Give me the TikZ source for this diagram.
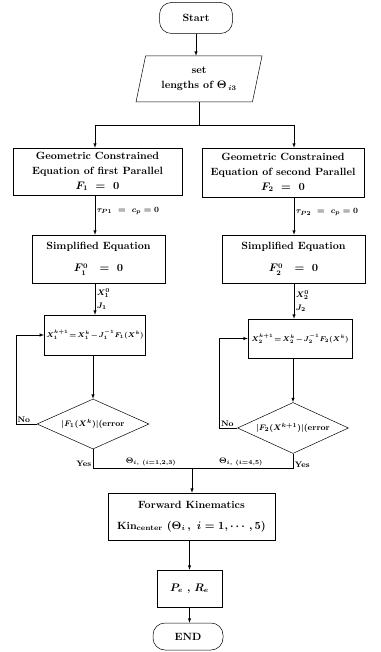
\documentclass[tikz,border=0pt]{standalone}
\usepackage{amsfonts, amssymb, amsmath}
\usetikzlibrary{shapes.geometric}

\begin{document}
\begin{tikzpicture}[x=1pt, y=-1pt, >=latex, line width=0.5pt,
        every node/.style = {font=\fontsize{10.5}{15}\selectfont\bfseries\boldmath},
        box/.style = {shape=rectangle, draw, align=center, inner sep=2pt},
        term/.style = {box, rounded corners=12pt},
        io/.style = {box, trapezium, trapezium left angle=71,
          trapezium right angle=109, trapezium stretches body},
        decide/.style = {box, diamond, aspect=2.2, inner sep=0pt,
          font=\fontsize{8.5}{10}\selectfont\bfseries\boldmath},
        small/.style = {font=\fontsize{7.5}{9}\selectfont\bfseries\boldmath},
        lbl/.style = {font=\fontsize{8}{9}\selectfont\bfseries\boldmath,
          inner sep=1.5pt, align=left}]
  \useasboundingbox (0,0) rectangle (380,652);

  \node[term, minimum width=73pt, minimum height=31pt] (start) at (196,18) {Start};
  \node[io, minimum width=126pt, minimum height=46pt] (setlen) at (199,79)
    {set\\lengths of $\Theta_{\,i3}$};
  \coordinate (fork) at (197,125);
  \coordinate (forkL) at (95,125);
  \coordinate (forkR) at (294,125);

  % two parallel chains
  \node[box, minimum width=169pt, minimum height=47pt] (geo1) at (97.5,171.5)
    {Geometric Constrained\\Equation of first Parallel\\$F_1\ =\ 0$};
  \node[box, minimum width=162pt, minimum height=49pt] (geo2) at (283,172.5)
    {Geometric Constrained\\Equation of second Parallel\\$F_2\ =\ 0$};
  \node[box, minimum width=133pt, minimum height=48pt] (simp1) at (98.5,259)
    {Simplified Equation\\[7pt]$F_1^0\ \ =\ 0$};
  \node[box, minimum width=143pt, minimum height=48pt] (simp2) at (293.5,259)
    {Simplified Equation\\[7pt]$F_2^0\ \ =\ 0$};
  \node[box, small, minimum width=96pt, minimum height=40pt] (iter1) at (95,335)
    {$\medmuskip=1.5mu \thickmuskip=2mu X_1^{k+1} = X_1^k - J_1^{-1}F_1(X^k)$};
  \node[box, small, minimum width=104pt, minimum height=39pt] (iter2) at (300,338.5)
    {$\medmuskip=1.5mu \thickmuskip=2mu X_2^{k+1} = X_2^k - J_2^{-1}F_2(X^k)$};
  \node[decide, minimum width=112pt, minimum height=50pt] (dec1) at (93,424)
    {$|F_1(X^k)|$(error};
  \node[decide, minimum width=111pt, minimum height=51pt] (dec2) at (293,428)
    {$|F_2(X^{k+1})|$(error};

  \coordinate (join) at (192,468);
  \node[box, minimum width=167pt, minimum height=47pt] (fk) at (191.5,516.5)
    {Forward Kinematics\\[6pt]Kin$_{\text{center}}$ $(\Theta_i\,,\ i=1,\cdots,5)$};
  \node[box, minimum width=65pt, minimum height=37pt] (pose) at (189.5,588.5)
    {$P_e$\ ,\ $R_e$};
  \node[term, minimum width=70pt, minimum height=27pt] (stop) at (188,636.5) {END};

  \draw[->] (start.south) -- (start.south |- setlen.north);
  \draw (setlen.south) -- (setlen.south |- fork);
  \draw (forkL) -- (forkR);
  \draw[->] (forkL) -- (forkL |- geo1.north);
  \draw[->] (forkR) -- (forkR |- geo2.north);

  \draw[->] (geo1.south -| forkL) -- node[lbl, right, pos=0.4] {$\tau_{P1}\ =\ c_p = 0$}
    (simp1.north -| forkL);
  \draw[->] (geo2.south -| forkR) -- node[lbl, right, pos=0.4] {$\tau_{P2}\ =\ c_p = 0$}
    (simp2.north -| forkR);
  \draw[->] (simp1.south -| forkL) -- node[lbl, right] {$X_1^0$\\[4.5pt]$J_1$}
    (iter1.north -| forkL);
  \draw[->] (simp2.south -| forkR) -- node[lbl, right] {$X_2^0$\\[4.5pt]$J_2$}
    (iter2.north -| forkR);
  \draw[->] (iter1.south -| dec1) -- (dec1.north);
  \draw[->] (iter2.south -| dec2) -- (dec2.north);

  % retry loops
  \draw[->] (dec1.west) -- ++(-21,0) node[lbl, above right] {No} |- (iter1.west);
  \draw[->] (dec2.west) -- ++(-18,0) node[lbl, above right] {No} |- (iter2.west);

  \draw (dec1.south) -- node[lbl, left, pos=0.8] {Yes} (dec1.south |- join)
    -- node[lbl, above, pos=0.29] {$\Theta_{i,\ (i=1,2,3)}$}
       node[lbl, above, pos=0.74] {$\Theta_{i,\ (i=4,5)}$} (dec2.south |- join)
    -- node[lbl, right, pos=0.2] {Yes} (dec2.south);
  \draw[->] (join) -- (join |- fk.north);
  \draw[->] (fk.south -| pose) -- (pose.north);
  \draw[->] (pose.south) -- (pose.south |- stop.north);
\end{tikzpicture}
\end{document}
